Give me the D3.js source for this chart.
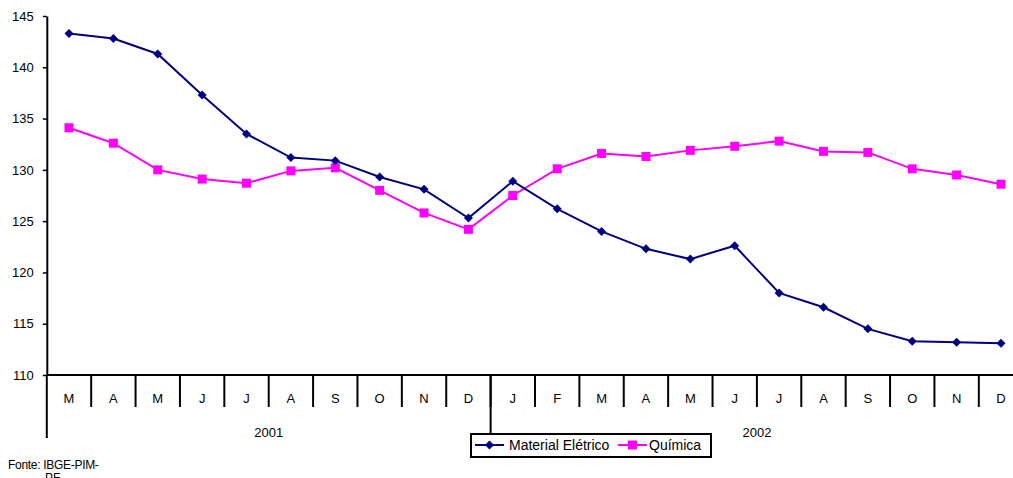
<!DOCTYPE html>
<html><head><meta charset="utf-8">
<script src="https://cdn.jsdelivr.net/npm/d3@7"></script>
<style>
html,body{margin:0;padding:0;background:#fff;overflow:hidden;}
text{font-family:"Liberation Sans",Arial,sans-serif;}
</style></head>
<body>
<svg id="c" width="1013" height="478"></svg>
<script>
const months = ["M","A","M","J","J","A","S","O","N","D","J","F","M","A","M","J","J","A","S","O","N","D"];
const years = ["2001","2002"];
const yearCounts = [10,12];
const materialEletrico = [143.3,142.8,141.3,137.3,133.5,131.2,130.9,129.3,128.1,125.3,128.9,126.2,124.0,122.3,121.3,122.6,118.0,116.6,114.5,113.3,113.2,113.1];
const quimica = [134.1,132.6,130.0,129.1,128.7,129.9,130.2,128.0,125.8,124.2,127.5,130.1,131.6,131.3,131.9,132.3,132.8,131.8,131.7,130.1,129.5,128.6];
const yTicks = [110,115,120,125,130,135,140,145];
const seriesNames = ["Material Elétrico","Química"];

const svg = d3.select("#c");
const pLeft = 46.8, pRight = 1023.2, pTop = 16, pBottom = 375;
const x = d3.scaleBand().domain(d3.range(months.length)).range([pLeft, pRight]).padding(0);
const y = d3.scaleLinear().domain([110,145]).range([pBottom, pTop]);
const bw = x.bandwidth();
const cx = i => x(i) + bw/2;

// y axis
const yAxis = d3.axisLeft(y).tickValues(yTicks).tickSize(4).tickSizeOuter(0).tickPadding(9);
const ga = svg.append("g").attr("transform", `translate(${pLeft},0)`).call(yAxis);
ga.select(".domain").attr("stroke","#000").attr("stroke-width",2);
ga.selectAll(".tick line").attr("stroke","#000").attr("stroke-width",1.5);
ga.selectAll(".tick text").attr("font-size",13).attr("fill","#000").attr("font-family","Liberation Sans, Arial, sans-serif");

// x axis line
svg.append("line").attr("x1",pLeft).attr("x2",pRight).attr("y1",pBottom).attr("y2",pBottom)
  .attr("stroke","#000").attr("stroke-width",2);

// month dividers
svg.append("g").selectAll("line").data(d3.range(1, months.length)).join("line")
  .attr("x1", i => x(i)).attr("x2", i => x(i))
  .attr("y1", pBottom).attr("y2", 407)
  .attr("stroke","#000").attr("stroke-width",2);

// month labels
svg.append("g").selectAll("text").data(months).join("text")
  .attr("x",(d,i)=>cx(i)).attr("y",403)
  .attr("text-anchor","middle").attr("font-size",13).attr("fill","#000")
  .text(d=>d);

// year dividers & labels
let acc = 0;
const yearBounds = [0];
yearCounts.forEach(c => { acc += c; yearBounds.push(acc); });
const bx = b => b < months.length ? x(b) : pRight;
svg.append("g").selectAll("line").data(yearBounds).join("line")
  .attr("x1", bx).attr("x2", bx)
  .attr("y1", pBottom).attr("y2", 438)
  .attr("stroke","#000").attr("stroke-width",2);
svg.append("g").selectAll("text").data(years).join("text")
  .attr("x",(d,i)=> (bx(yearBounds[i]) + bx(yearBounds[i+1]))/2)
  .attr("y",437).attr("text-anchor","middle").attr("font-size",13).attr("fill","#000")
  .text(d=>d);

// lines
const line = d3.line().x((d,i)=>cx(i)).y(d=>y(d));
const navy = "#000080", mag = "#FF00FF";
svg.append("path").datum(quimica).attr("d",line).attr("fill","none").attr("stroke",mag).attr("stroke-width",2);
svg.append("g").selectAll("rect").data(quimica).join("rect")
  .attr("x",(d,i)=>cx(i)-4.5).attr("y",d=>y(d)-4.5).attr("width",9).attr("height",9).attr("fill",mag);
svg.append("path").datum(materialEletrico).attr("d",line).attr("fill","none").attr("stroke",navy).attr("stroke-width",2);
const diamond = (px,py,r) => `M${px},${py-r}L${px+r},${py}L${px},${py+r}L${px-r},${py}Z`;
svg.append("g").selectAll("path").data(materialEletrico).join("path")
  .attr("d",(d,i)=>diamond(cx(i),y(d),4.5)).attr("fill",navy);

// legend
const lg = svg.append("g");
lg.append("rect").attr("x",471).attr("y",434).attr("width",240).attr("height",23)
  .attr("fill","#fff").attr("stroke","#000").attr("stroke-width",2);
lg.append("line").attr("x1",475).attr("x2",504).attr("y1",445).attr("y2",445).attr("stroke",navy).attr("stroke-width",2);
lg.append("path").attr("d",diamond(489.5,445,4.5)).attr("fill",navy);
lg.append("text").attr("x",509).attr("y",450).attr("font-size",14).attr("fill","#000").text(seriesNames[0]);
lg.append("line").attr("x1",618).attr("x2",647).attr("y1",445).attr("y2",445).attr("stroke",mag).attr("stroke-width",2);
lg.append("rect").attr("x",628).attr("y",440.5).attr("width",9).attr("height",9).attr("fill",mag);
lg.append("text").attr("x",649).attr("y",450).attr("font-size",14).attr("fill","#000").text(seriesNames[1]);

// source
svg.append("text").attr("x",8).attr("y",469).attr("font-size",12).attr("fill","#000").attr("letter-spacing",-0.3).text("Fonte: IBGE-PIM-");
svg.append("text").attr("x",45).attr("y",482).attr("font-size",12).attr("fill","#000").text("PF");
</script>
</body></html>
